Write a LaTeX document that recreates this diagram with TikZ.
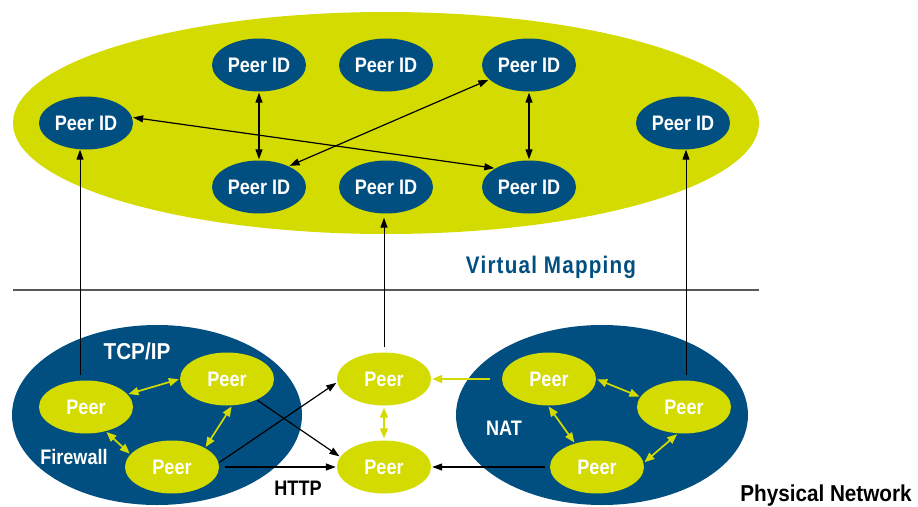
\documentclass[tikz,border=0pt]{standalone}
\usepackage{fontspec}
\setmainfont{Liberation Sans}[FakeStretch=0.86]
\newfontfamily\vmfont{Liberation Sans}[FakeStretch=0.86,LetterSpace=5]
\newfontfamily\widefont{Liberation Sans}[FakeStretch=0.9]
\usetikzlibrary{shapes.geometric,arrows.meta}
\definecolor{pgreen}{RGB}{212,219,0}
\definecolor{pblue}{RGB}{0,79,128}
\begin{document}
\begin{tikzpicture}[x=1pt,y=-1pt,
  >={Triangle[length=10pt,width=7pt]},
  lbl/.style={font=\fontsize{21}{21}\selectfont\bfseries},
  biglbl/.style={font=\widefont\fontsize{23}{23}\selectfont\bfseries},
  idnode/.style={ellipse,fill=pblue,text=white,minimum width=94pt,minimum height=53pt,inner sep=0pt,lbl},
  peernode/.style={ellipse,fill=pgreen,text=white,minimum width=94pt,minimum height=53pt,inner sep=0pt,lbl},
  cluster/.style={ellipse,fill=pblue,inner sep=0pt},
  blk/.style={draw=black,line width=1.2pt,shorten >=1pt,shorten <=1pt},
  up/.style={draw=black,line width=1pt},
  grn/.style={draw=pgreen,line width=1.7pt,shorten >=1pt,shorten <=1pt,>={Triangle[length=10pt,width=8pt]}},
]
\useasboundingbox (0,0) rectangle (918,506);
% virtual layer
\node[ellipse,fill=pgreen,minimum width=746pt,minimum height=222pt,inner sep=0pt] (vm) at (386,123) {};
\node[idnode] (A) at (259,65) {Peer ID};
\node[idnode] (B) at (386,65) {Peer ID};
\node[idnode] (C) at (529,65) {Peer ID};
\node[idnode] (D) at (86,123) {Peer ID};
\node[idnode] (E) at (259,187) {Peer ID};
\node[idnode] (F) at (386,187) {Peer ID};
\node[idnode] (G) at (529,187) {Peer ID};
\node[idnode] (H) at (683,123) {Peer ID};
% separator
\coordinate (sepL) at (13,290);
\coordinate (sepR) at (759,290);
\draw[black!65,line width=1.4pt] (sepL) -- (sepR);
\node[text=pblue,font=\vmfont\fontsize{24}{24}\selectfont\bfseries] (vmlab) at (551,267) {Virtual Mapping};
% physical layer
\node[cluster,minimum width=290pt,minimum height=180pt] (LC) at (157,415) {};
\node[cluster,minimum width=292pt,minimum height=180pt] (RC) at (602,415) {};
\node[peernode] (P1) at (86,407) {Peer};
\node[peernode] (P2) at (227,379) {Peer};
\node[peernode] (P3) at (172,467) {Peer};
\node[peernode] (M1) at (384,379) {Peer};
\node[peernode] (M2) at (384,467) {Peer};
\node[peernode] (R1) at (549,379) {Peer};
\node[peernode] (R2) at (684,407) {Peer};
\node[peernode] (R3) at (597,467) {Peer};
\node[biglbl,text=white] (tcp) at (137,351) {TCP/IP};
\node[lbl,text=white] (fw) at (74,457) {Firewall};
\node[lbl,text=white] (nat) at (504,428) {NAT};
\node[lbl,text=black] (http) at (298,488) {HTTP};
\node[biglbl,text=black] (phys) at (826,496) {Physical Network};
% virtual connectors
\draw[blk,<->] (A.south) -- (E.north);
\draw[blk,<->] (C.south) -- (G.north);
\draw[blk,<->] (D.7) -- (G.151);
\draw[blk,<->] (E.35) -- (C.200);
% vertical mappings
\draw[up,->,shorten <=5pt] ([xshift=-6pt]P1.north) -- ([xshift=-6pt]P1.north |- D.south);
\draw[up,->,shorten <=5pt,shorten >=4pt] (M1.north) -- (M1.north |- F.south);
\draw[up,->,shorten <=5pt] ([xshift=2pt]R2.north) -- ([xshift=2pt]R2.north |- H.south);
% green peer connectors
\draw[grn,<->] (P1.17) -- (P2.180);
\draw[grn,<->] (P2.281) -- (P3.30);
\draw[grn,<->] (P1.-51) -- (P3.163);
\draw[grn,<->,shorten <=2pt,shorten >=2pt] (M1.south) -- (M2.north);
\draw[grn,->,shorten <=12pt] (R1.west) -- (M1.east);
\draw[grn,<->] (R1.0) -- (R2.167);
\draw[grn,<->] (R1.268) -- (R3.133);
\draw[grn,<->] (R2.257) -- (R3.5);
% black physical connectors
\draw[blk,->] (P2.-35) -- (M2.167);
\draw[blk,->] (P3.5) -- (M1.184);
\draw[blk,->,shorten <=6pt] (P3.east) -- (M2.west);
\draw[blk,->,shorten <=5pt] (R3.west) -- (M2.east);
\end{tikzpicture}
\end{document}
